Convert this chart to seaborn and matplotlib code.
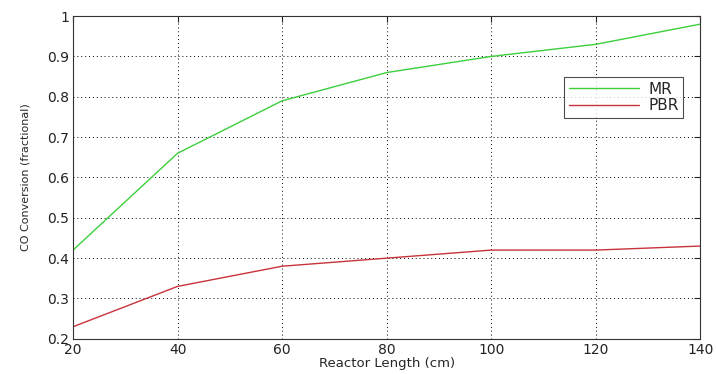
import numpy as np
import pandas as pd
import matplotlib
matplotlib.use("Agg")
import matplotlib.pyplot as plt
import seaborn as sns

# reactor length (cm)
reactor_length = [20, 40, 60, 80, 100, 120, 140]
# CO conversion, membrane reactor and packed bed reactor
mr_conversion = [0.42, 0.66, 0.79, 0.86, 0.90, 0.93, 0.98]
pbr_conversion = [0.23, 0.33, 0.38, 0.40, 0.42, 0.42, 0.43]

sns.set_style("white")
plt.rcParams["font.family"] = ["DejaVu Sans"]

df = pd.DataFrame({
    "length": reactor_length * 2,
    "conversion": mr_conversion + pbr_conversion,
    "reactor": ["MR"] * len(reactor_length) + ["PBR"] * len(reactor_length),
})

fig, ax = plt.subplots(figsize=(7.16, 3.74), dpi=100)
fig.subplots_adjust(left=0.102, right=0.978, top=0.957, bottom=0.094)

sns.lineplot(data=df, x="length", y="conversion", hue="reactor",
             palette={"MR": "#3ccf3c", "PBR": "#c8323c"}, linewidth=1.0, ax=ax)

ax.set_xlim(20, 140)
ax.set_ylim(0.2, 1.0)
ax.set_xticks(np.arange(20, 141, 20))
ax.set_yticks(np.arange(0.2, 1.01, 0.1))
ax.set_yticklabels(["0.2", "0.3", "0.4", "0.5", "0.6", "0.7", "0.8", "0.9", "1"])
ax.grid(True, color="black", linestyle=(0, (1, 3)), linewidth=0.7)
ax.tick_params(direction="in", top=True, right=True, length=4, labelsize=10,
               colors="#222222", pad=3)
for s in ax.spines.values():
    s.set_color("#333333")
    s.set_linewidth(0.8)

ax.set_xlabel("Reactor Length (cm)", fontsize=9.5, labelpad=0)
ax.set_ylabel("CO Conversion (fractional)", fontsize=8, labelpad=12)

leg = ax.legend(loc="upper right", bbox_to_anchor=(0.973, 0.811), fontsize=11,
                frameon=True, fancybox=False, handlelength=4.6, borderpad=0.3,
                labelspacing=0.1, handletextpad=0.6, borderaxespad=0)
leg.get_frame().set_edgecolor("#222222")
leg.get_frame().set_linewidth(0.8)

plt.savefig("out.png", dpi=100)
